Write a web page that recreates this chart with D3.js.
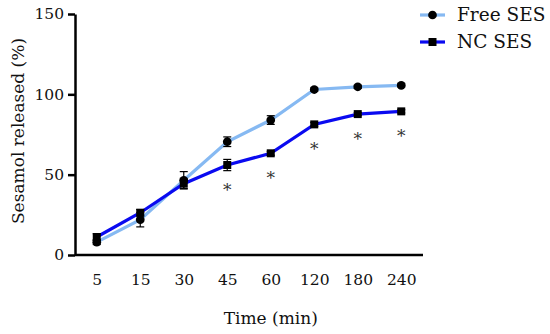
<!DOCTYPE html>
<html>
<head>
<meta charset="utf-8">
<script src="https://cdn.jsdelivr.net/npm/d3@7"></script>
<style>
  body { margin: 0; background: #fff; }
</style>
</head>
<body>
<div id="chart"></div>
<script>
const times = ['5', '15', '30', '45', '60', '120', '180', '240'];
const freeMean = [8, 22, 46.5, 70.5, 84, 103, 104.7, 105.6];
const freeErr = [1.5, 4.5, 5.4, 3, 2.7, 1, 1, 1];
const ncMean = [11.2, 26.3, 44.4, 56, 63.3, 81.3, 87.7, 89.4];
const ncErr = [2, 2, 3, 3.5, 1.2, 1.2, 1, 1];
const sig = ['', '', '', '*', '*', '*', '*', '*'];
const yTicks = [0, 50, 100, 150];
const seriesNames = ['Free SES', 'NC SES'];

const FONT = 'DejaVu Serif';
const width = 550, height = 334;
const margin = { top: 14, right: 127, bottom: 79, left: 75 };

const svg = d3.select('#chart').append('svg')
  .attr('width', width)
  .attr('height', height)
  .attr('font-family', FONT);

const x = d3.scalePoint()
  .domain(times)
  .range([margin.left, width - margin.right])
  .padding(0.5);

const y = d3.scaleLinear()
  .domain([0, 150])
  .range([height - margin.bottom, margin.top]);

const series = [
  { name: seriesNames[0], color: '#86b9f2', shape: d3.symbolCircle, size: 60,
    values: times.map((t, i) => ({ t, v: freeMean[i], e: freeErr[i] })) },
  { name: seriesNames[1], color: '#0a0af0', shape: d3.symbolSquare, size: 64,
    values: times.map((t, i) => ({ t, v: ncMean[i], e: ncErr[i] })) }
];

// axes
svg.append('g')
  .attr('transform', `translate(${margin.left},0)`)
  .call(d3.axisLeft(y).tickValues(yTicks).tickSize(7).tickSizeOuter(0).tickPadding(4))
  .attr('font-family', FONT)
  .call(g => g.select('.domain').attr('stroke-width', 2.5))
  .call(g => g.selectAll('.tick line').attr('stroke-width', 2.5))
  .call(g => g.selectAll('text').attr('font-size', 15.5).attr('fill', '#111'));

svg.append('g')
  .attr('transform', `translate(0,${y(0)})`)
  .call(d3.axisBottom(x).tickSize(0).tickPadding(19))
  .attr('font-family', FONT)
  .call(g => g.select('.domain').attr('d', `M${margin.left},0H${width - margin.right}`).attr('stroke-width', 2.5))
  .call(g => g.selectAll('text').attr('font-size', 15.5).attr('fill', '#111'));

// lines
const line = d3.line().x(d => x(d.t)).y(d => y(d.v));

series.forEach(s => {
  svg.append('path')
    .datum(s.values)
    .attr('fill', 'none')
    .attr('stroke', s.color)
    .attr('stroke-width', 3.2)
    .attr('d', line);
});

// error bars and markers
series.forEach(s => {
  const g = svg.append('g').attr('stroke', '#000').attr('stroke-width', 1.2);
  s.values.forEach(d => {
    const cx = x(d.t);
    g.append('line').attr('x1', cx).attr('x2', cx).attr('y1', y(d.v - d.e)).attr('y2', y(d.v + d.e));
    g.append('line').attr('x1', cx - 4).attr('x2', cx + 4).attr('y1', y(d.v - d.e)).attr('y2', y(d.v - d.e));
    g.append('line').attr('x1', cx - 4).attr('x2', cx + 4).attr('y1', y(d.v + d.e)).attr('y2', y(d.v + d.e));
  });
  svg.append('g').selectAll('path')
    .data(s.values)
    .join('path')
    .attr('transform', d => `translate(${x(d.t)},${y(d.v)})`)
    .attr('d', d3.symbol(s.shape, s.size))
    .attr('fill', '#000');
});

// significance marks
svg.append('g').selectAll('text')
  .data(times.map((t, i) => ({ t, v: ncMean[i], s: sig[i] })).filter(d => d.s))
  .join('text')
  .attr('x', d => x(d.t))
  .attr('y', d => y(d.v) + 31)
  .attr('text-anchor', 'middle')
  .attr('font-size', 17)
  .attr('fill', '#333')
  .text(d => d.s);

// axis titles
svg.append('text')
  .attr('transform', 'translate(24,131) rotate(-90)')
  .attr('text-anchor', 'middle')
  .attr('font-size', 17)
  .attr('fill', '#111')
  .text('Sesamol released (%)');

svg.append('text')
  .attr('x', x('60'))
  .attr('y', 324)
  .attr('text-anchor', 'middle')
  .attr('font-size', 17)
  .attr('fill', '#111')
  .text('Time (min)');

// legend
const legend = svg.append('g')
  .attr('transform', 'translate(420,15)');

const item = legend.selectAll('g')
  .data(series)
  .join('g')
  .attr('transform', (d, i) => `translate(0,${i * 27})`);

item.append('line')
  .attr('x1', 0).attr('x2', 25)
  .attr('stroke', d => d.color)
  .attr('stroke-width', 3.2);

item.append('path')
  .attr('transform', 'translate(12.5,0)')
  .attr('d', d => d3.symbol(d.shape, d.size)())
  .attr('fill', '#000');

item.append('text')
  .attr('x', 37)
  .attr('dy', '0.35em')
  .attr('font-size', 18.5)
  .attr('fill', '#111')
  .text(d => d.name);
</script>
</body>
</html>
